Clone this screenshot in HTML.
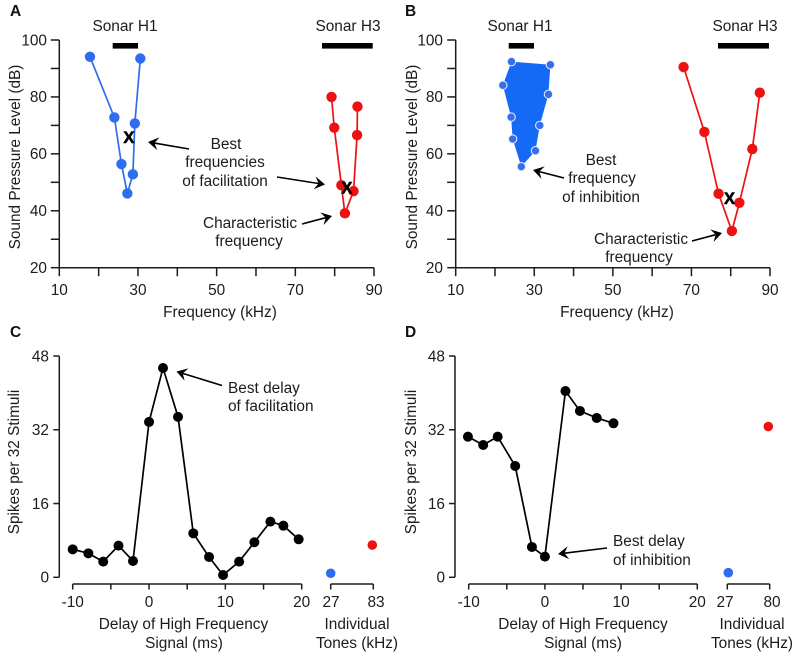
<!DOCTYPE html>
<html>
<head>
<meta charset="utf-8">
<style>
html,body{margin:0;padding:0;background:#fff;width:797px;height:655px;overflow:hidden}
svg{display:block}
text{font-family:"Liberation Sans",Arial,sans-serif;font-size:15.4px;fill:#1c1c1c}
.m{text-anchor:middle}
.e{text-anchor:end}
.pl{font-weight:bold;font-size:15.5px;fill:#111}
.ax{stroke:#1c1c1c;stroke-width:1.5;fill:none}
.xm{font-weight:bold;font-size:16.5px;fill:#000;stroke:#000;stroke-width:.6;text-anchor:middle}
.bar{fill:#000}
</style>
</head>
<body>
<svg id="fig" xmlns="http://www.w3.org/2000/svg" width="797" height="655" viewBox="0 0 797 655">
  <g>
    <text class="pl" x="10" y="16">A</text>
    <text class="m" x="125" y="31">Sonar H1</text>
    <text class="m" x="348" y="31">Sonar H3</text>
    <rect class="bar" x="112.7" y="43" width="25.3" height="5.6"/>
    <rect class="bar" x="322" y="43" width="50.7" height="5.6"/>
    <text class="m" x="226" y="149">Best</text>
    <text class="m" x="225" y="167">frequencies</text>
    <text class="m" x="225" y="186">of facilitation</text>
    <text class="m" x="250" y="228">Characteristic</text>
    <text class="m" x="249" y="246">frequency</text>
    <text class="m" x="220" y="317">Frequency (kHz)</text>
    <text class="m" transform="translate(20 157) rotate(-90)">Sound Pressure Level (dB)</text>
  </g>
  <g>
    <text class="pl" x="405" y="16">B</text>
    <text class="m" x="520" y="31">Sonar H1</text>
    <text class="m" x="745" y="31">Sonar H3</text>
    <rect class="bar" x="508.7" y="43" width="25.3" height="5.6"/>
    <rect class="bar" x="718" y="43" width="51" height="5.6"/>
    <text class="m" x="601" y="165">Best</text>
    <text class="m" x="602" y="183">frequency</text>
    <text class="m" x="601" y="202">of inhibition</text>
    <text class="m" x="641" y="244">Characteristic</text>
    <text class="m" x="639" y="262">frequency</text>
    <text class="m" x="617" y="317">Frequency (kHz)</text>
    <text class="m" transform="translate(417 157) rotate(-90)">Sound Pressure Level (dB)</text>
  </g>
  <g>
    <text class="pl" x="10" y="337">C</text>
    <text x="228" y="393">Best delay</text>
    <text x="228" y="411">of facilitation</text>
    <text class="m" x="183.5" y="629">Delay of High Frequency</text>
    <text class="m" x="184" y="648">Signal (ms)</text>
    <text class="m" x="357" y="629">Individual</text>
    <text class="m" x="357" y="648">Tones (kHz)</text>
    <text class="m" transform="translate(19 462) rotate(-90)">Spikes per 32 Stimuli</text>
  </g>
  <g>
    <text class="pl" x="405" y="337">D</text>
    <text x="613" y="546">Best delay</text>
    <text x="613" y="565">of inhibition</text>
    <text class="m" x="583" y="629">Delay of High Frequency</text>
    <text class="m" x="583" y="648">Signal (ms)</text>
    <text class="m" x="752" y="629">Individual</text>
    <text class="m" x="752" y="648">Tones (kHz)</text>
    <text class="m" transform="translate(416 462) rotate(-90)">Spikes per 32 Stimuli</text>
  </g>
</svg>
<script>
// ---- tick data ----
var freqTicks = [10,20,30,40,50,60,70,80,90];
var freqTickLabels = ["10","","30","","50","","70","","90"];
var splTicks = [20,30,40,50,60,70,80,90,100];
var splTickLabels = ["20","","40","","60","","80","","100"];
var spikeTicks = [0,16,32,48];
var spikeTickLabels = ["0","16","32","48"];
var delayTicks = [-10,-5,0,5,10,15,20];
var delayTickLabels = ["-10","","0","","10","","20"];

// ---- panel A ----
var aH1Freq = [17.8,24.0,25.8,27.3,28.7,29.2,30.6];
var aH1Level = [94.1,72.8,56.4,46.1,52.8,70.7,93.5];
var aH3Freq = [79.2,79.9,81.7,82.6,84.8,85.7,85.8];
var aH3Level = [80,69.2,49,39.1,46.9,66.6,76.6];
var aBestFreq = [27.7,83.1];
var aBestLevel = [65.9,48.1];

// ---- panel B ----
var bH1Freq = [24.2,34.1,33.6,31.4,30.3,26.7,24.5,24.1,22.0];
var bH1Level = [92.4,91.3,80.9,70,61.1,55.5,65.2,72.9,84.1];
var bH3Freq = [68.0,73.3,76.9,80.3,82.2,85.5,87.4];
var bH3Level = [90.5,67.7,46,32.9,42.8,61.7,81.5];
var bBestFreq = [79.7];
var bBestLevel = [44.4];

// ---- panel C ----
var cDelay = [-10,-7.95,-6,-4,-2.1,0,1.83,3.8,5.8,7.86,9.7,11.8,13.8,15.9,17.6,19.6];
var cSpikes = [6.07,5.2,3.4,6.87,3.54,33.7,45.4,34.8,9.54,4.41,0.5,3.4,7.6,12.08,11.2,8.24];
var cToneLabels = ["27","83"];
var cToneSpikes = [0.87,7.0];

// ---- panel D ----
var dDelay = [-10.1,-8.1,-6.2,-3.9,-1.7,0,2.7,4.6,6.8,9.0];
var dSpikes = [30.5,28.7,30.5,24.15,6.58,4.48,40.4,36.08,34.56,33.4];
var dToneLabels = ["27","80"];
var dToneSpikes = [1.0,32.7];

var NS = "http://www.w3.org/2000/svg";
var fig = document.getElementById("fig");
var BLUE = "#2f6df0", RED = "#ee1111", BLACK = "#000";

function mk(tag, attrs, parent) {
  var el = document.createElementNS(NS, tag);
  for (var k in attrs) el.setAttribute(k, attrs[k]);
  (parent || fig).appendChild(el);
  return el;
}
function linear(d0, d1, r0, r1) {
  return function (v) { return r0 + (v - d0) * (r1 - r0) / (d1 - d0); };
}
function axisLine(x1, y1, x2, y2, name) {
  var el = mk("line", {x1:x1, y1:y1, x2:x2, y2:y2, "class":"ax"});
  
  
}
function tickLabel(x, y, str, cls, name) {
  if (!str) return;
  var el = mk("text", {x:x, y:y, "class":cls});
  el.textContent = str;
  
  
}
function yAxis(sy, ticks, labels, axisX, labelX, tickLen, prefix) {
  axisLine(axisX, sy(ticks[0]), axisX, sy(ticks[ticks.length - 1]), prefix + "-y-axis");
  ticks.forEach(function (t, i) {
    axisLine(axisX - tickLen, sy(t), axisX, sy(t), prefix + "-y-tick");
    tickLabel(labelX, sy(t) + 5.3, labels[i], "e", prefix + "-y-tick-label");
  });
}
function xAxis(sx, ticks, labels, axisY, labelY, tickLen, prefix) {
  axisLine(sx(ticks[0]), axisY, sx(ticks[ticks.length - 1]), axisY, prefix + "-x-axis");
  ticks.forEach(function (t, i) {
    axisLine(sx(t), axisY, sx(t), axisY + tickLen, prefix + "-x-tick");
    tickLabel(sx(t), labelY, labels[i], "m", prefix + "-x-tick-label");
  });
}
function series(xs, ys, sx, sy, color, r, name) {
  var pts = xs.map(function (x, i) { return sx(x) + "," + sy(ys[i]); }).join(" ");
  var line = mk("polyline", {points:pts, fill:"none", stroke:color, "stroke-width":1.7});
  
  
  xs.forEach(function (x, i) {
    var c = mk("circle", {cx:sx(x), cy:sy(ys[i]), r:r, fill:color});
    
    
  });
}
function outlinedArea(xs, ys, sx, sy, name) {
  var pts = xs.map(function (x, i) { return sx(x) + "," + sy(ys[i]); }).join(" ");
  var poly = mk("polygon", {points:pts, fill:"#1469f5"});
  
  
  xs.forEach(function (x, i) {
    var c = mk("circle", {cx:sx(x), cy:sy(ys[i]), r:4.2, fill:"#3a6ee8", stroke:"#e8f0ff", "stroke-width":1});
    
    
  });
}
function bestMarks(xs, ys, sx, sy, name) {
  xs.forEach(function (x, i) {
    var el = mk("text", {x:sx(x), y:sy(ys[i]) + 5.8, "class":"xm"});
    el.textContent = "X";
    
    
  });
}
function singlePoint(x, y, color, name) {
  var c = mk("circle", {cx:x, cy:y, r:4.8, fill:color});
  
  
}
function arrow(x1, y1, x2, y2, name) {
  var a = Math.atan2(y2 - y1, x2 - x1), L = 10.5, W = 6.5, N = 6.5;
  var ux = Math.cos(a), uy = Math.sin(a);
  var bx = x2 - ux * L, by = y2 - uy * L;
  var nx = x2 - ux * N, ny = y2 - uy * N;
  var g = mk("g", {});
  
  
  mk("line", {x1:x1, y1:y1, x2:nx, y2:ny, stroke:"#000", "stroke-width":1.6}, g);
  mk("polygon", {points:[x2, y2, bx - uy * W, by + ux * W, nx, ny, bx + uy * W, by - ux * W].join(" "), fill:"#000"}, g);
}

// Panel A
var ax = linear(10, 90, 59.3, 374);
var ay = linear(20, 100, 267.7, 40);
yAxis(ay, splTicks, splTickLabels, 59.3, 47, 8.5, "panel-a");
xAxis(ax, freqTicks, freqTickLabels, 267.7, 295, 8.5, "panel-a");
series(aH1Freq, aH1Level, ax, ay, BLUE, 5.2, "panel-a-h1");
series(aH3Freq, aH3Level, ax, ay, RED, 5.2, "panel-a-h3");
bestMarks(aBestFreq, aBestLevel, ax, ay, "panel-a-best-frequency-x");
arrow(189, 149, 148, 142, "arrow-best-frequency-h1");
arrow(277, 177, 325, 184.5, "arrow-best-frequency-h3");
arrow(302, 224, 332, 216, "arrow-characteristic-frequency-a");

// Panel B
var bx = linear(10, 90, 455.7, 770);
var by = linear(20, 100, 267.7, 40);
yAxis(by, splTicks, splTickLabels, 455.7, 443, 8.5, "panel-b");
xAxis(bx, freqTicks, freqTickLabels, 267.7, 295, 8.5, "panel-b");
outlinedArea(bH1Freq, bH1Level, bx, by, "panel-b-h1");
series(bH3Freq, bH3Level, bx, by, RED, 5.2, "panel-b-h3");
bestMarks(bBestFreq, bBestLevel, bx, by, "panel-b-best-frequency-x");
arrow(564, 178, 533, 170, "arrow-best-frequency-inhibition");
arrow(692, 241, 722, 233, "arrow-characteristic-frequency-b");

// Panel C
var cx = linear(-10, 20, 72.7, 301.7);
var cy = linear(0, 48, 577.3, 356);
yAxis(cy, spikeTicks, spikeTickLabels, 59.3, 49, 6, "panel-c");
xAxis(cx, delayTicks, delayTickLabels, 584, 607, 5.5, "panel-c");
series(cDelay, cSpikes, cx, cy, BLACK, 5, "panel-c-delay");
axisLine(330.7, 584, 373.3, 584, "panel-c-tones-axis");
axisLine(330.7, 584, 330.7, 589.5, "panel-c-tone-tick");
axisLine(373.3, 584, 373.3, 589.5, "panel-c-tone-tick");
tickLabel(331, 607, cToneLabels[0], "m", "panel-c-tone-label");
tickLabel(376, 607, cToneLabels[1], "m", "panel-c-tone-label");
singlePoint(330.7, cy(cToneSpikes[0]), BLUE, "panel-c-tone-low");
singlePoint(372.3, cy(cToneSpikes[1]), RED, "panel-c-tone-high");
arrow(222, 385.5, 176.5, 371.5, "arrow-best-delay-facilitation");

// Panel D
var dx = linear(-10, 20, 468.7, 697.3);
var dy = linear(0, 48, 577.3, 356);
yAxis(dy, spikeTicks, spikeTickLabels, 455, 445, 6, "panel-d");
xAxis(dx, delayTicks, delayTickLabels, 584, 607, 5.5, "panel-d");
series(dDelay, dSpikes, dx, dy, BLACK, 5, "panel-d-delay");
axisLine(727.3, 584, 769.7, 584, "panel-d-tones-axis");
axisLine(727.3, 584, 727.3, 589.5, "panel-d-tone-tick");
axisLine(769.7, 584, 769.7, 589.5, "panel-d-tone-tick");
tickLabel(725, 607, dToneLabels[0], "m", "panel-d-tone-label");
tickLabel(772, 607, dToneLabels[1], "m", "panel-d-tone-label");
singlePoint(728.3, dy(dToneSpikes[0]), BLUE, "panel-d-tone-low");
singlePoint(768.3, dy(dToneSpikes[1]), RED, "panel-d-tone-high");
arrow(607, 548, 558, 554, "arrow-best-delay-inhibition");
</script>
</body>
</html>
